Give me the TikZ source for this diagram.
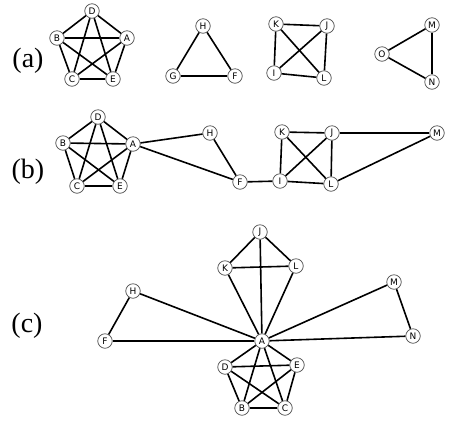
\documentclass[tikz,border=0pt]{standalone}
\usepackage{fontspec}
\setmainfont{Liberation Serif}
\newfontfamily\vtxfont{DejaVu Sans}
\tikzset{
  vtx/.style={circle, draw=black!70, line width=0.7pt, fill=white, minimum size=14.5pt, inner sep=0pt, font=\vtxfont\fontsize{9}{9}\selectfont},
  edge/.style={line width=1.6pt, black},
  panel/.style={font=\fontsize{28}{28}\selectfont}
}
\begin{document}
\begin{tikzpicture}[x=1pt,y=-1pt]
			\useasboundingbox (0,0) rectangle (449,424);
			% (a) separate groups
			\node[panel] (la) at (28,61) {(a)};
			\node[vtx] (aD) at (92,11) {D};
			\node[vtx] (aB) at (57,38) {B};
			\node[vtx] (aA) at (127,38) {A};
			\node[vtx] (aC) at (72,79) {C};
			\node[vtx] (aE) at (113,79) {E};
			\node[vtx] (aH) at (203,26) {H};
			\node[vtx] (aG) at (173,76) {G};
			\node[vtx] (aF) at (235,76) {F};
			\node[vtx] (aK) at (276,24) {K};
			\node[vtx] (aJ) at (327,26) {J};
			\node[vtx] (aI) at (274,73) {I};
			\node[vtx] (aL) at (324,78) {L};
			\node[vtx] (aM) at (432,25) {M};
			\node[vtx] (aO) at (382,54) {O};
			\node[vtx] (aN) at (432,82) {N};
			\foreach \u/\v in {D/B,D/A,D/C,D/E,B/A,B/C,B/E,A/C,A/E,C/E,H/G,H/F,G/F,K/J,K/I,K/L,J/I,J/L,I/L,M/O,M/N,O/N}
				\draw[edge] (a\u) -- (a\v);
			% (b) joined
			\node[panel] (lb) at (28,172) {(b)};
			\node[vtx] (bD) at (98,117) {D};
			\node[vtx] (bB) at (63,143) {B};
			\node[vtx] (bA) at (133,144) {A};
			\node[vtx] (bC) at (77,186) {C};
			\node[vtx] (bE) at (120,186) {E};
			\node[vtx] (bH) at (210,133) {H};
			\node[vtx] (bF) at (240,182) {F};
			\node[vtx] (bK) at (282,132) {K};
			\node[vtx] (bJ) at (332,133) {J};
			\node[vtx] (bI) at (280,181) {I};
			\node[vtx] (bL) at (331,184) {L};
			\node[vtx] (bM) at (437,133) {M};
			\foreach \u/\v in {D/B,D/A,D/C,D/E,B/A,B/C,B/E,A/C,A/E,C/E,A/H,A/F,H/F,F/I,K/J,K/I,K/L,J/I,J/L,I/L,J/M,L/M}
				\draw[edge] (b\u) -- (b\v);
			% (c) centred on A
			\node[panel] (lc) at (27,326) {(c)};
			\node[vtx] (cJ) at (260,232) {J};
			\node[vtx] (cK) at (225,268) {K};
			\node[vtx] (cL) at (296,266) {L};
			\node[vtx] (cA) at (262,341) {A};
			\node[vtx] (cD) at (225,367) {D};
			\node[vtx] (cE) at (297,365) {E};
			\node[vtx] (cB) at (242,408) {B};
			\node[vtx] (cC) at (285,408) {C};
			\node[vtx] (cH) at (133,291) {H};
			\node[vtx] (cF) at (105,341) {F};
			\node[vtx] (cM) at (394,282) {M};
			\node[vtx] (cN) at (413,336) {N};
			\foreach \v in {J,K,L,H,F,M,N,D,E,B,C}
				\draw[edge] (cA) -- (c\v);
			\foreach \u/\v in {J/K,J/L,K/L,H/F,M/N,D/E,D/B,D/C,E/B,E/C,B/C}
				\draw[edge] (c\u) -- (c\v);
		\end{tikzpicture}
\end{document}
